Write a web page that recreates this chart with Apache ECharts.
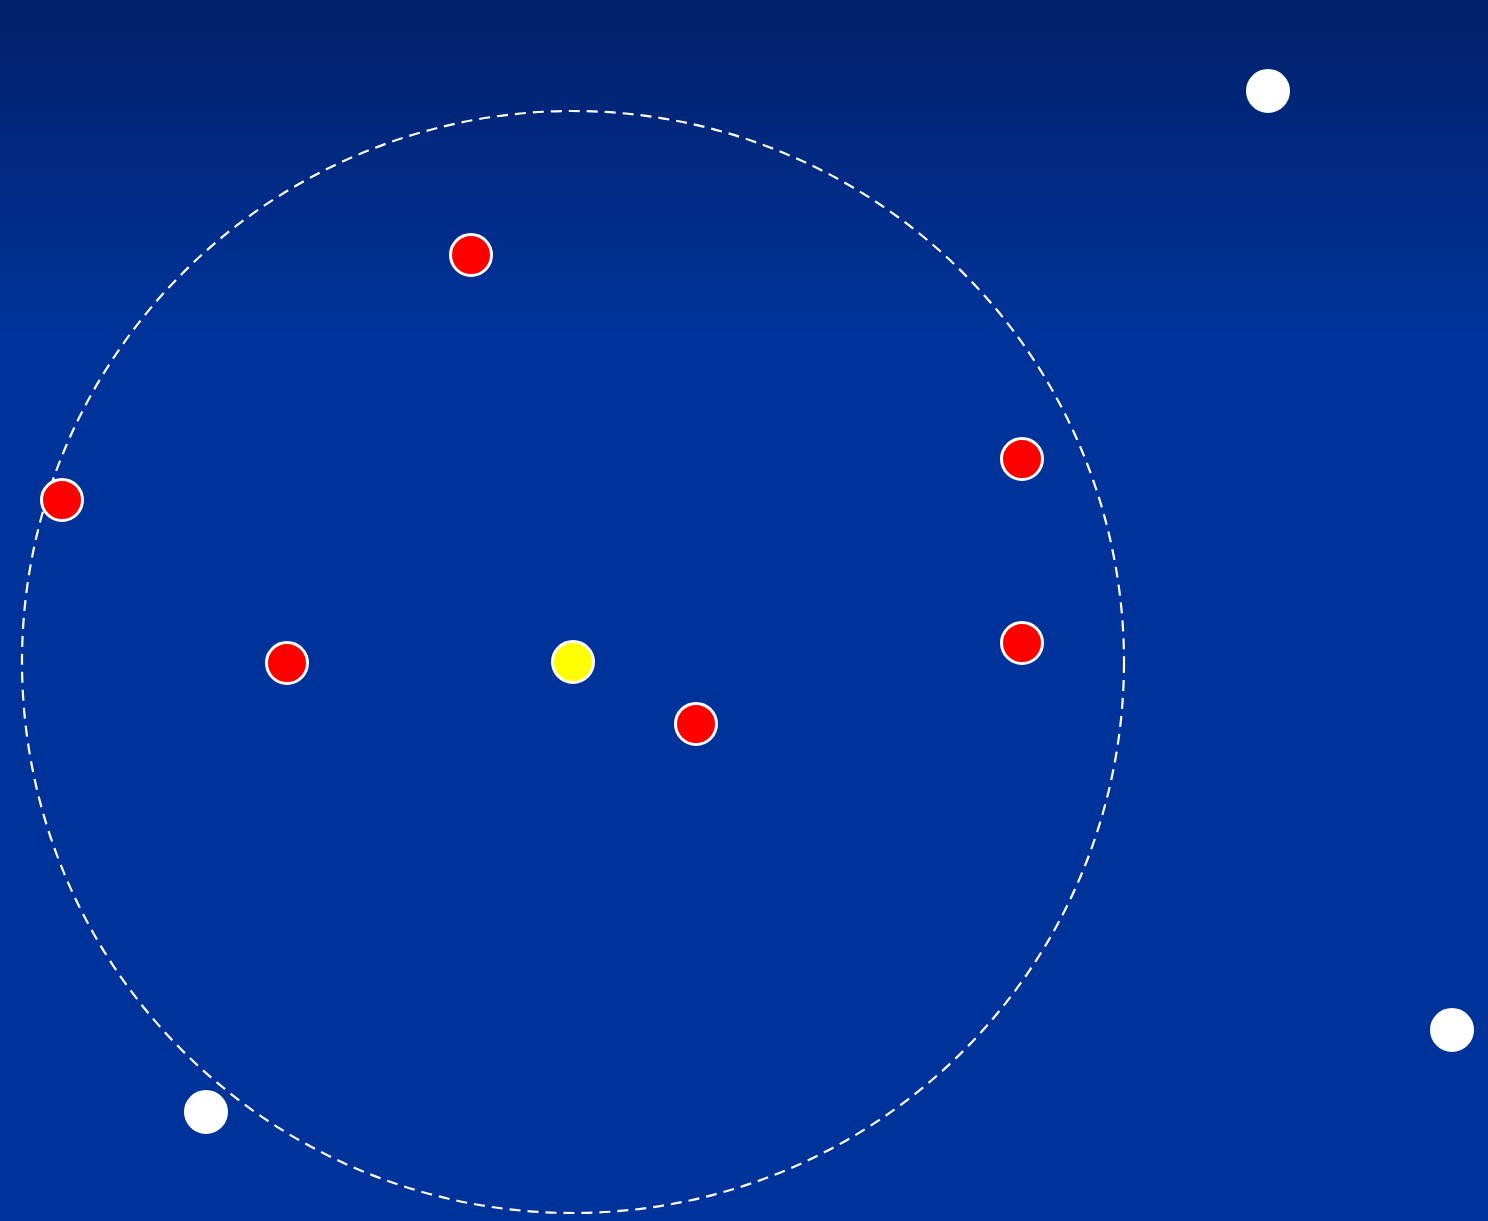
<!DOCTYPE html>
<html>
<head>
<meta charset="utf-8">
<script src="https://cdn.jsdelivr.net/npm/echarts@6/dist/echarts.min.js"></script>
<style>html,body{margin:0;padding:0;background:#003399;}#c{width:1488px;height:1221px;}</style>
</head>
<body>
<div id="c"></div>
<script>
// data units: x 0..148.8, y 0..122.1 (same scale on both axes)
var targetPoint = [[57.3, 55.9]];
var neighborPoints = [[47.1, 96.6], [6.2, 72.1], [102.2, 76.2], [102.2, 57.8], [28.7, 55.8], [69.6, 49.7]];
var otherPoints = [[126.8, 113.0], [145.2, 19.1], [20.6, 10.9]];
var searchRadius = [[57.3, 55.9, 55.1]];

var chart = echarts.init(document.getElementById('c'), null, {renderer: 'canvas'});
chart.setOption({
  animation: false,
  backgroundColor: {
    type: 'linear', x: 0, y: 0, x2: 0, y2: 1,
    colorStops: [
      {offset: 0, color: '#00206a'},
      {offset: 0.27, color: '#003399'},
      {offset: 1, color: '#003399'}
    ]
  },
  grid: {left: 0, right: 0, top: 0, bottom: 0},
  xAxis: {type: 'value', min: 0, max: 148.8, show: false, splitLine: {show: false}},
  yAxis: {type: 'value', min: 0, max: 122.1, show: false, splitLine: {show: false}},
  series: [
    {
      type: 'custom',
      z: 1,
      silent: true,
      data: searchRadius,
      renderItem: function (params, api) {
        var c = api.coord([api.value(0), api.value(1)]);
        var r = api.size([api.value(2), 0])[0];
        return {
          type: 'circle',
          shape: {cx: c[0], cy: c[1], r: r},
          style: {fill: 'none', stroke: '#ffffff', lineWidth: 2.2, lineDash: [11, 7]}
        };
      }
    },
    {
      type: 'scatter', z: 3, data: otherPoints, symbolSize: 41,
      itemStyle: {color: '#ffffff', borderColor: '#ffffff', borderWidth: 3, opacity: 1}
    },
    {
      type: 'scatter', z: 3, data: neighborPoints, symbolSize: 41,
      itemStyle: {color: '#ff0000', borderColor: '#ffffff', borderWidth: 3, opacity: 1}
    },
    {
      type: 'scatter', z: 3, data: targetPoint, symbolSize: 41,
      itemStyle: {color: '#ffff00', borderColor: '#ffffff', borderWidth: 3, opacity: 1}
    }
  ]
});
</script>
</body>
</html>
